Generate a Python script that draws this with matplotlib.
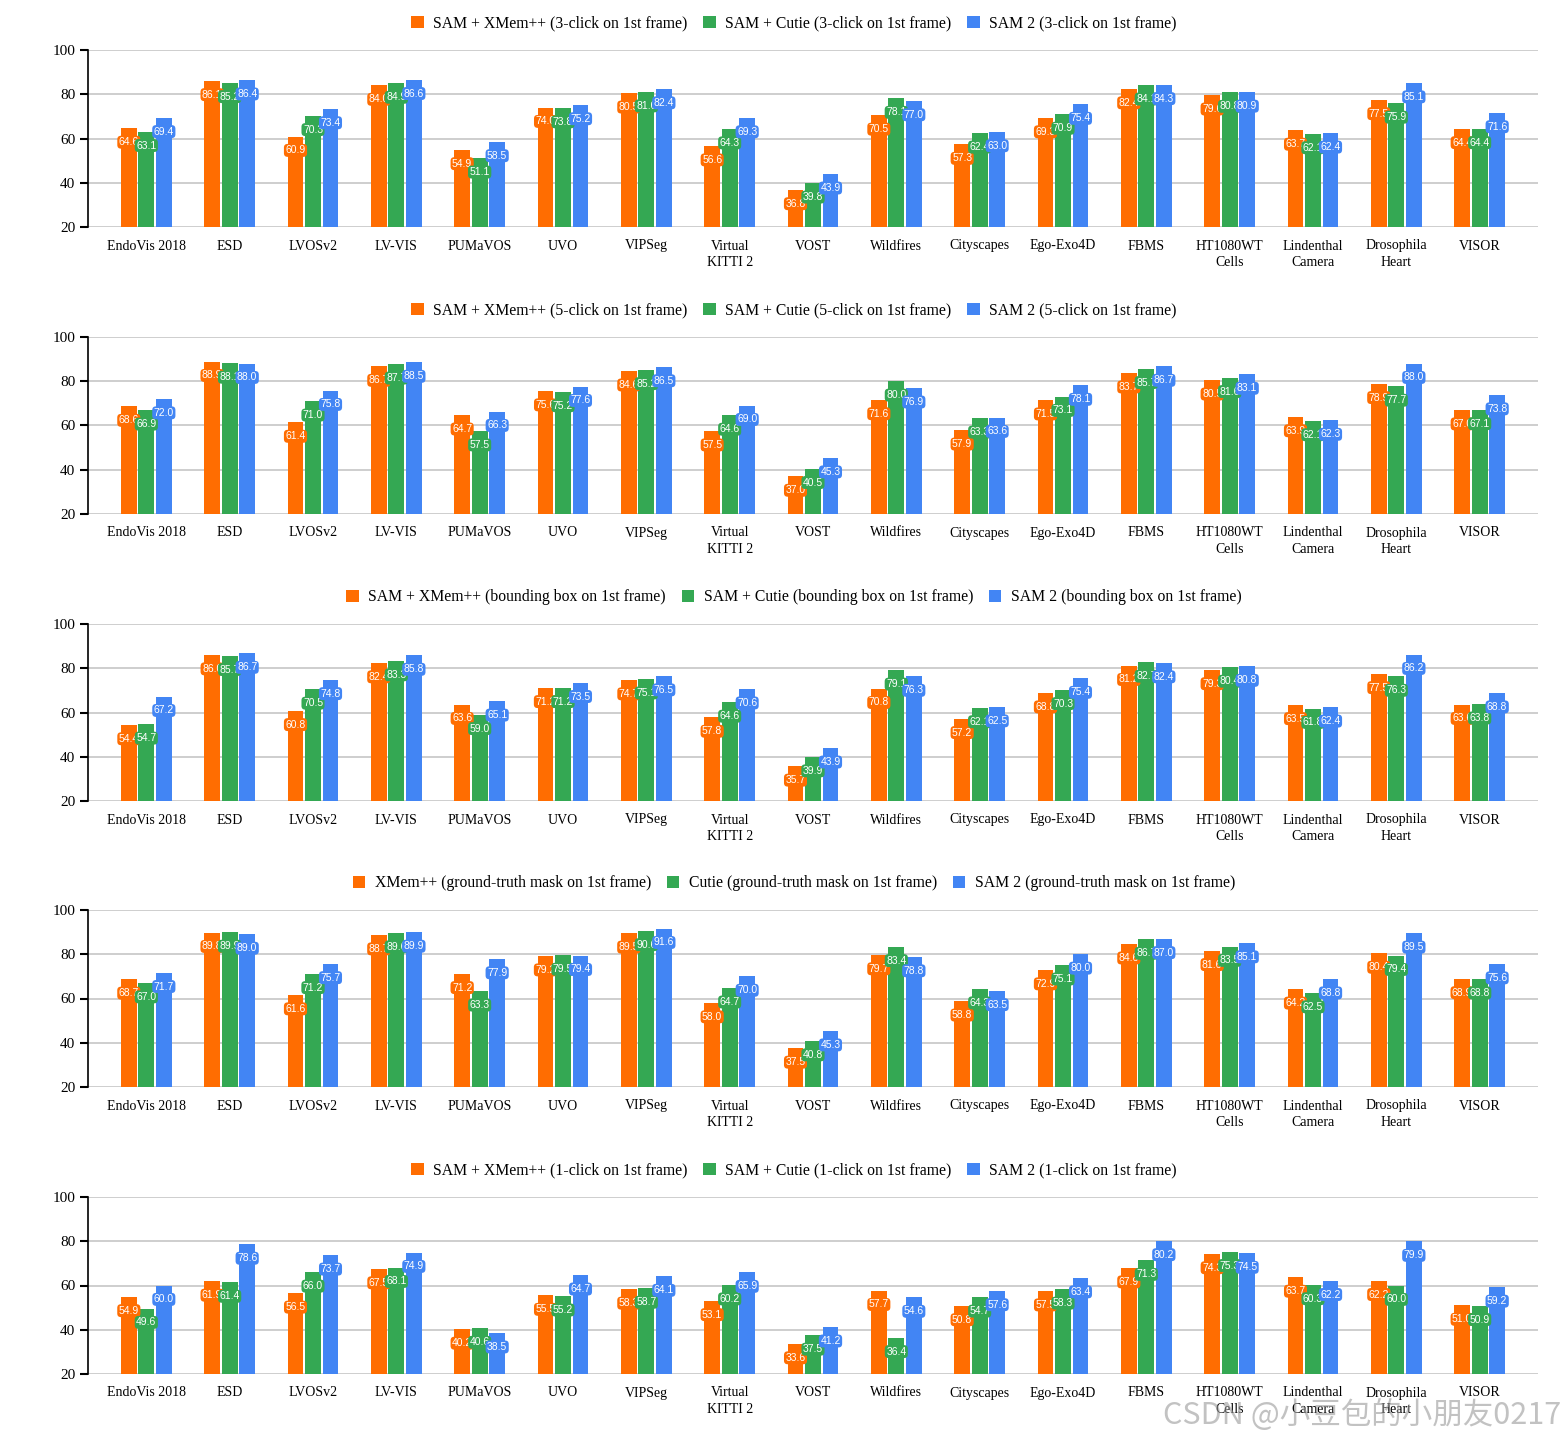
import matplotlib
matplotlib.use("Agg")
import matplotlib.pyplot as plt
import numpy as np
from matplotlib.patches import Patch

categories = ["EndoVis 2018", "ESD", "LVOSv2", "LV-VIS", "PUMaVOS", "UVO", "VIPSeg",
              "Virtual\nKITTI 2", "VOST", "Wildfires", "Cityscapes", "Ego-Exo4D", "FBMS",
              "HT1080WT\nCells", "Lindenthal\nCamera", "Drosophila\nHeart", "VISOR"]

# Panel 1: 3-click
p1_xmem = [64.6, 86.1, 60.9, 84.0, 54.9, 74.0, 80.5, 56.6, 36.8, 70.5, 57.3, 69.3, 82.4, 79.6, 63.7, 77.5, 64.4]
p1_cutie = [63.1, 85.2, 70.3, 84.9, 51.1, 73.8, 81.0, 64.3, 39.8, 78.1, 62.4, 70.9, 84.1, 80.8, 62.1, 75.9, 64.4]
p1_sam2 = [69.4, 86.4, 73.4, 86.6, 58.5, 75.2, 82.4, 69.3, 43.9, 77.0, 63.0, 75.4, 84.3, 80.9, 62.4, 85.1, 71.6]

# Panel 2: 5-click
p2_xmem = [68.6, 88.9, 61.4, 86.7, 64.7, 75.6, 84.6, 57.5, 37.0, 71.6, 57.9, 71.5, 83.7, 80.5, 63.9, 78.9, 67.0]
p2_cutie = [66.9, 88.1, 71.0, 87.7, 57.5, 75.2, 85.2, 64.6, 40.5, 80.0, 63.3, 73.1, 85.7, 81.6, 62.1, 77.7, 67.1]
p2_sam2 = [72.0, 88.0, 75.8, 88.5, 66.3, 77.6, 86.5, 69.0, 45.3, 76.9, 63.6, 78.1, 86.7, 83.1, 62.3, 88.0, 73.8]

# Panel 3: bounding box
p3_xmem = [54.4, 86.0, 60.8, 82.4, 63.6, 71.2, 74.7, 57.8, 35.7, 70.8, 57.2, 68.8, 81.2, 79.3, 63.5, 77.5, 63.6]
p3_cutie = [54.7, 85.7, 70.5, 83.3, 59.0, 71.2, 75.1, 64.6, 39.9, 79.1, 62.1, 70.3, 82.7, 80.4, 61.8, 76.3, 63.8]
p3_sam2 = [67.2, 86.7, 74.8, 85.8, 65.1, 73.5, 76.5, 70.6, 43.9, 76.3, 62.5, 75.4, 82.4, 80.8, 62.4, 86.2, 68.8]

# Panel 4: ground-truth mask
p4_xmem = [68.7, 89.8, 61.6, 88.7, 71.2, 79.2, 89.5, 58.0, 37.5, 79.7, 58.8, 72.9, 84.6, 81.6, 64.2, 80.4, 68.9]
p4_cutie = [67.0, 89.9, 71.2, 89.6, 63.3, 79.5, 90.6, 64.7, 40.8, 83.4, 64.3, 75.1, 86.7, 83.5, 62.5, 79.4, 68.8]
p4_sam2 = [71.7, 89.0, 75.7, 89.9, 77.9, 79.4, 91.6, 70.0, 45.3, 78.8, 63.5, 80.0, 87.0, 85.1, 68.8, 89.5, 75.6]

# Panel 5: 1-click
p5_xmem = [54.9, 61.9, 56.5, 67.5, 40.2, 55.5, 58.3, 53.1, 33.6, 57.7, 50.8, 57.5, 67.9, 74.3, 63.7, 62.2, 51.0]
p5_cutie = [49.6, 61.4, 66.0, 68.1, 40.6, 55.2, 58.7, 60.2, 37.5, 36.4, 54.7, 58.3, 71.3, 75.3, 60.3, 60.0, 50.9]
p5_sam2 = [60.0, 78.6, 73.7, 74.9, 38.5, 64.7, 64.1, 65.9, 41.2, 54.6, 57.6, 63.4, 80.2, 74.5, 62.2, 79.9, 59.2]

legends = [
    ["SAM + XMem++ (3-click on 1st frame)", "SAM + Cutie (3-click on 1st frame)", "SAM 2 (3-click on 1st frame)"],
    ["SAM + XMem++ (5-click on 1st frame)", "SAM + Cutie (5-click on 1st frame)", "SAM 2 (5-click on 1st frame)"],
    ["SAM + XMem++ (bounding box on 1st frame)", "SAM + Cutie (bounding box on 1st frame)", "SAM 2 (bounding box on 1st frame)"],
    ["XMem++ (ground-truth mask on 1st frame)", "Cutie (ground-truth mask on 1st frame)", "SAM 2 (ground-truth mask on 1st frame)"],
    ["SAM + XMem++ (1-click on 1st frame)", "SAM + Cutie (1-click on 1st frame)", "SAM 2 (1-click on 1st frame)"],
]
panels = [
    (p1_xmem, p1_cutie, p1_sam2),
    (p2_xmem, p2_cutie, p2_sam2),
    (p3_xmem, p3_cutie, p3_sam2),
    (p4_xmem, p4_cutie, p4_sam2),
    (p5_xmem, p5_cutie, p5_sam2),
]

colors = ["#FF6D01", "#34A853", "#4285F4"]
serif = ["Liberation Serif", "DejaVu Serif"]
label_font = ["Liberation Sans Narrow", "Liberation Sans", "DejaVu Sans"]

W, H = 1568, 1443
fig = plt.figure(figsize=(W / 100, H / 100), dpi=100)

tops = [50, 337, 624, 910, 1197]
ax_h = 177
left_px, right_px = 88, 1538
x = np.arange(len(categories))
bw = 0.19
offsets = [-0.21, 0.0, 0.21]

for pi, (series, top) in enumerate(zip(panels, tops)):
    ax = fig.add_axes([left_px / W, 1 - (top + ax_h) / H, (right_px - left_px) / W, ax_h / H])
    for si, (vals, col) in enumerate(zip(series, colors)):
        ax.bar(x + offsets[si], vals, width=bw, color=col, zorder=3)
        for xi, v in zip(x + offsets[si], vals):
            ax.annotate(f"{v:.1f}", (xi, v), xytext=(0, -10), textcoords="offset points",
                        ha="center", va="center", fontsize=7.5, color="white",
                        family=label_font, zorder=5,
                        bbox=dict(boxstyle="round,pad=0.14,rounding_size=0.35", fc=col, ec="none"))
    ax.set_ylim(20, 100)
    ax.set_xlim(-0.7, 16.7)
    ax.set_yticks([20, 40, 60, 80, 100])
    ax.yaxis.grid(True, color="#c6c6c6", linewidth=1.2, zorder=0)
    ax.set_axisbelow(True)
    for s in ["top", "right", "bottom"]:
        ax.spines[s].set_visible(False)
    ax.spines["left"].set_color("black")
    ax.spines["left"].set_linewidth(1.2)
    ax.tick_params(axis="y", length=6, width=1.5, color="black", labelsize=11, pad=3)
    ax.tick_params(axis="x", length=0, labelsize=10, pad=9)
    ax.set_xticks(x)
    ax.set_xticklabels(categories, family=serif, linespacing=1.35)
    for lab in ax.get_yticklabels():
        lab.set_family(serif)
    handles = [Patch(facecolor=c, edgecolor="none") for c in colors]
    fig.legend(handles, legends[pi], loc="center", ncol=3,
               bbox_to_anchor=(794 / W, 1 - (top - 27) / H), frameon=False,
               prop={"family": serif, "size": 11.3}, handlelength=0.8, handleheight=0.8,
               handletextpad=0.6, columnspacing=1.0)

fig.text(1362 / W, 1 - 1415 / H, "CSDN @小豆包的小朋友0217", ha="center", va="center",
         fontsize=22, color="#9a9a9a", alpha=0.6, family=["Noto Sans CJK SC", "DejaVu Sans"])

fig.savefig("out.png", dpi=100)
